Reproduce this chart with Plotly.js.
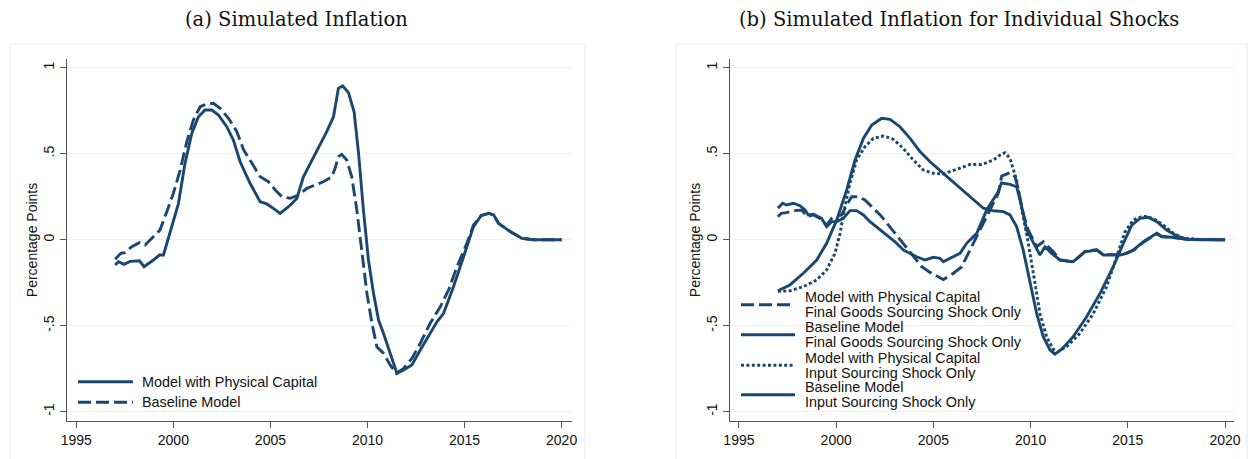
<!DOCTYPE html>
<html>
<head>
<meta charset="utf-8">
<script src="https://cdn.plot.ly/plotly-3.0.1.min.js"></script>
<style>html,body{margin:0;padding:0;background:#fff;}#chart{width:1250px;height:459px;}</style>
</head>
<body>
<div id="chart"></div>
<script>
// ---------- Panel (a) data ----------
const aCapYears = [1997.0,1997.17,1997.46,1997.77,1998.25,1998.49,1998.97,1999.28,1999.49,1999.92,2000.26,2000.6,2000.95,2001.29,2001.63,2001.98,2002.32,2002.75,2003.09,2003.44,2003.95,2004.47,2004.81,2005.15,2005.5,2005.93,2006.36,2006.7,2007.05,2007.47,2007.9,2008.25,2008.5,2008.72,2009.02,2009.31,2009.54,2009.79,2010.05,2010.31,2010.57,2010.82,2011.17,2011.52,2011.86,2012.29,2012.72,2013.23,2013.58,2013.92,2014.43,2014.95,2015.46,2015.85,2016.24,2016.5,2016.75,2017.35,2017.95,2018.55,2020.0];
const aCapVals  = [-0.147,-0.128,-0.143,-0.126,-0.122,-0.157,-0.118,-0.089,-0.089,0.076,0.21,0.444,0.619,0.715,0.754,0.754,0.725,0.657,0.58,0.453,0.328,0.221,0.208,0.182,0.153,0.192,0.24,0.366,0.444,0.531,0.628,0.715,0.88,0.894,0.855,0.744,0.502,0.173,-0.118,-0.312,-0.467,-0.544,-0.66,-0.777,-0.758,-0.728,-0.641,-0.544,-0.477,-0.428,-0.273,-0.099,0.076,0.14,0.153,0.144,0.095,0.047,0.008,0.0,0.0];

const aBaseYears = [1997.0,1997.29,1997.51,1997.86,1998.25,1998.54,1998.97,1999.31,1999.66,2000.0,2000.35,2000.69,2001.03,2001.38,2001.72,2002.06,2002.41,2002.84,2003.27,2003.62,2004.05,2004.47,2004.9,2005.25,2005.59,2006.02,2006.45,2006.88,2007.3,2007.73,2008.16,2008.33,2008.5,2008.67,2008.93,2009.19,2009.45,2009.71,2009.97,2010.23,2010.48,2010.82,2011.17,2011.48,2011.86,2012.29,2012.72,2013.23,2013.75,2014.18,2014.61,2015.12,2015.46,2015.85,2016.24,2016.5,2016.75,2017.35,2017.95,2018.55,2020.0];
const aBaseVals  = [-0.114,-0.079,-0.075,-0.04,-0.017,-0.031,0.017,0.056,0.163,0.27,0.405,0.57,0.696,0.773,0.789,0.793,0.764,0.706,0.628,0.522,0.444,0.366,0.337,0.289,0.25,0.241,0.26,0.299,0.318,0.337,0.366,0.415,0.483,0.496,0.463,0.366,0.173,-0.079,-0.312,-0.486,-0.622,-0.66,-0.728,-0.777,-0.748,-0.69,-0.602,-0.486,-0.39,-0.292,-0.157,-0.021,0.085,0.14,0.153,0.144,0.095,0.047,0.008,0.0,0.0];

// ---------- Panel (b) data ----------
const bFinalCapYears = [1997.0,1997.17,1997.45,1997.8,1998.23,1998.5,1998.83,1999.17,1999.51,1999.77,2000.03,2000.28,2000.54,2000.8,2001.14,2001.48,2001.91,2002.3,2002.94,2003.45,2003.97,2004.4,2004.83,2005.25,2005.51,2006.03,2006.46,2006.88,2007.4,2007.91,2008.34,2008.51,2008.94,2009.2,2009.37,2009.62,2009.88,2010.31,2010.65,2011.17,2011.51,2012.19,2012.8,2013.4,2013.74,2014.6,2014.94,2015.28,2015.8,2016.49,2016.74,2017.34,2018.03,2020.0];
const bFinalCapVals  = [0.134,0.153,0.157,0.169,0.173,0.134,0.144,0.124,0.085,0.124,0.138,0.144,0.202,0.25,0.25,0.231,0.183,0.14,0.05,-0.021,-0.099,-0.157,-0.19,-0.215,-0.232,-0.195,-0.157,-0.06,0.056,0.173,0.27,0.37,0.39,0.366,0.289,0.153,0.056,-0.041,-0.012,-0.07,-0.118,-0.13,-0.068,-0.058,-0.087,-0.087,-0.077,-0.062,-0.015,0.035,0.02,0.012,0.002,0.0];

const bFinalBaseYears = [1997.0,1997.25,1997.45,1997.8,1998.14,1998.4,1998.57,1998.83,1999.25,1999.51,1999.77,2000.03,2000.37,2000.71,2001.05,2001.4,2001.74,2002.17,2002.6,2003.03,2003.46,2003.8,2004.14,2004.57,2005.0,2005.34,2005.51,2005.86,2006.37,2006.71,2007.06,2007.23,2007.74,2008.08,2008.34,2008.5,2008.94,2009.28,2009.54,2009.8,2010.14,2010.48,2010.74,2011.08,2011.51,2012.19,2012.8,2013.4,2013.74,2014.6,2014.94,2015.28,2015.8,2016.49,2016.74,2017.34,2018.03,2020.0];
const bFinalBaseVals  = [0.183,0.212,0.202,0.212,0.198,0.173,0.144,0.148,0.124,0.076,0.105,0.105,0.124,0.169,0.169,0.144,0.105,0.066,0.027,-0.012,-0.06,-0.079,-0.099,-0.118,-0.102,-0.108,-0.128,-0.108,-0.079,-0.021,0.017,0.037,0.173,0.231,0.28,0.33,0.322,0.308,0.192,0.056,-0.021,-0.089,-0.041,-0.079,-0.118,-0.128,-0.07,-0.06,-0.089,-0.089,-0.079,-0.06,-0.012,0.037,0.017,0.014,0.002,0.0];

const bInputCapYears = [1997.0,1997.62,1998.31,1999.0,1999.51,1999.94,2000.2,2000.45,2000.71,2001.05,2001.48,2001.91,2002.42,2002.94,2003.45,2003.97,2004.48,2004.99,2005.51,2006.2,2006.88,2007.48,2008.08,2008.43,2008.68,2008.94,2009.28,2009.55,2009.85,2010.14,2010.48,2010.82,2011.17,2011.42,2011.86,2012.54,2013.23,2013.91,2014.43,2014.86,2015.28,2015.8,2016.31,2016.83,2017.34,2017.86,2018.71,2020.0];
const bInputCapVals  = [-0.3,-0.297,-0.273,-0.234,-0.176,-0.079,0.037,0.192,0.328,0.463,0.541,0.589,0.603,0.584,0.531,0.463,0.405,0.386,0.382,0.41,0.437,0.437,0.463,0.492,0.506,0.473,0.347,0.173,0.0,-0.195,-0.428,-0.564,-0.637,-0.651,-0.622,-0.544,-0.428,-0.273,-0.099,0.047,0.115,0.138,0.124,0.085,0.037,0.008,0.002,0.0];

const bInputBaseYears = [1997.0,1997.62,1998.31,1999.0,1999.51,2000.03,2000.54,2000.97,2001.4,2001.83,2002.34,2002.77,2003.28,2003.8,2004.31,2004.83,2005.51,2006.2,2006.88,2007.57,2008.08,2008.6,2008.94,2009.28,2009.62,2009.97,2010.31,2010.65,2011.0,2011.25,2011.6,2012.19,2012.88,2013.57,2014.25,2014.77,2015.2,2015.63,2016.06,2016.49,2017.0,2017.52,2018.03,2018.71,2020.0];
const bInputBaseVals  = [-0.297,-0.263,-0.195,-0.118,-0.021,0.115,0.289,0.463,0.589,0.667,0.706,0.7,0.657,0.589,0.512,0.453,0.386,0.318,0.25,0.183,0.168,0.163,0.144,0.076,-0.06,-0.253,-0.428,-0.564,-0.641,-0.665,-0.637,-0.564,-0.448,-0.312,-0.157,-0.021,0.085,0.124,0.13,0.105,0.056,0.022,0.002,0.0,0.0];

// ---------- Labels ----------
const panelTitles = ['(a) Simulated Inflation', '(b) Simulated Inflation for Individual Shocks'];
const yAxisTitle = 'Percentage Points';
const xTickVals = [1995, 2000, 2005, 2010, 2015, 2020];
const yTickVals = [-1, -0.5, 0, 0.5, 1];
const yTickText = ['-1', '-.5', '0', '.5', '1'];
const legendA = ['Model with Physical Capital', 'Baseline Model'];
const legendB = [
  ['Model with Physical Capital', 'Final Goods Sourcing Shock Only'],
  ['Baseline Model', 'Final Goods Sourcing Shock Only'],
  ['Model with Physical Capital', 'Input Sourcing Shock Only'],
  ['Baseline Model', 'Input Sourcing Shock Only']
];

// ---------- Styling ----------
const NAVY = '#1a476f';
const LW = 2.9;
const DASH = '13px,5px';
const DOT = '3px,2.4px';
const FONT = 'Liberation Sans, Arial, sans-serif';
const W = 1250, H = 459;
const px = x => x / W;
const py = y => 1 - y / H;

function tr(x, y, dash, xa, ya, name) {
  return {x: x, y: y, type: 'scatter', mode: 'lines', name: name, showlegend: false,
    xaxis: xa, yaxis: ya, line: {color: NAVY, width: LW, dash: dash}, hoverinfo: 'skip'};
}

const traces = [
  tr(aCapYears, aCapVals, 'solid', 'x', 'y', legendA[0]),
  tr(aBaseYears, aBaseVals, DASH, 'x', 'y', legendA[1]),
  tr(bFinalCapYears, bFinalCapVals, DASH, 'x2', 'y2', legendB[0].join(' ')),
  tr(bFinalBaseYears, bFinalBaseVals, 'solid', 'x2', 'y2', legendB[1].join(' ')),
  tr(bInputCapYears, bInputCapVals, DOT, 'x2', 'y2', legendB[2].join(' ')),
  tr(bInputBaseYears, bInputBaseVals, 'solid', 'x2', 'y2', legendB[3].join(' '))
];

function xax(domain, range) {
  return {domain: domain, range: range, tickmode: 'array', tickvals: xTickVals,
    ticktext: xTickVals.map(String), ticks: 'outside', ticklen: 6, tickwidth: 1, tickcolor: '#555',
    showline: true, linecolor: '#555', linewidth: 1.3, showgrid: false, zeroline: false,
    tickfont: {family: FONT, size: 14, color: '#111'}, fixedrange: true};
}
function yax(anchor, standoff) {
  return {domain: [py(421), py(59)], range: [-1.054, 1.0506], anchor: anchor,
    tickmode: 'array', tickvals: yTickVals, ticktext: yTickText, tickangle: -90,
    ticks: 'outside', ticklen: 6, tickwidth: 1, tickcolor: '#555',
    showline: true, linecolor: '#555', linewidth: 1.3,
    showgrid: true, gridcolor: '#eaf1f2', gridwidth: 1, zeroline: false,
    tickfont: {family: FONT, size: 14, color: '#111'},
    title: {text: yAxisTitle, font: {family: FONT, size: 14, color: '#111'}, standoff: standoff},
    fixedrange: true};
}

const shapes = [
  {type: 'rect', xref: 'paper', yref: 'paper', x0: px(10), x1: px(585), y0: -0.2, y1: py(44),
   line: {color: '#e6eef0', width: 1.2}, fillcolor: 'rgba(0,0,0,0)', layer: 'below'},
  {type: 'rect', xref: 'paper', yref: 'paper', x0: px(676), x1: px(1247), y0: -0.2, y1: py(44),
   line: {color: '#e6eef0', width: 1.2}, fillcolor: 'rgba(0,0,0,0)', layer: 'below'}
];
const TITLE_FONT = {family: 'DejaVu Serif, serif', size: 19.5, color: '#111'};
const annotations = [
  {text: panelTitles[0], xref: 'paper', yref: 'paper', x: px(296), y: py(19), xanchor: 'center', yanchor: 'middle',
   showarrow: false, font: TITLE_FONT},
  {text: panelTitles[1], xref: 'paper', yref: 'paper', x: px(959), y: py(19), xanchor: 'center', yanchor: 'middle',
   showarrow: false, font: TITLE_FONT}
];

// legend panel (a)
const legA_y = [381.7, 402.3];
const legA_dash = ['solid', DASH];
legA_y.forEach((y, i) => {
  shapes.push({type: 'line', xref: 'paper', yref: 'paper', x0: px(78), x1: px(133), y0: py(y), y1: py(y),
    line: {color: NAVY, width: LW, dash: legA_dash[i]}});
  annotations.push({text: legendA[i], xref: 'paper', yref: 'paper', x: px(140), y: py(y),
    xanchor: 'left', yanchor: 'middle', showarrow: false, font: {family: FONT, size: 14.4, color: '#111'}});
});
// legend panel (b)
const legB_y = [304.8, 334.8, 365.3, 394.8];
const legB_dash = [DASH, 'solid', DOT, 'solid'];
legB_y.forEach((y, i) => {
  shapes.push({type: 'line', xref: 'paper', yref: 'paper', x0: px(741), x1: px(795), y0: py(y), y1: py(y),
    line: {color: NAVY, width: LW, dash: legB_dash[i]}});
  legendB[i].forEach((t, j) => {
    annotations.push({text: t, xref: 'paper', yref: 'paper', x: px(802.5), y: py(y - 7.5 + 15 * j),
      xanchor: 'left', yanchor: 'middle', showarrow: false, font: {family: FONT, size: 14.4, color: '#111'}});
  });
});

const layout = {
  width: W, height: H, margin: {l: 0, r: 0, t: 0, b: 0, pad: 0},
  paper_bgcolor: '#ffffff', plot_bgcolor: 'rgba(0,0,0,0)', showlegend: false,
  xaxis: xax([px(67), px(571.7)], [1994.52, 2020.52]),
  yaxis: yax('x', 0),
  xaxis2: Object.assign(xax([px(730), px(1234)], [1994.54, 2020.46]), {anchor: 'y2'}),
  yaxis2: yax('x2', 0),
  shapes: shapes, annotations: annotations
};
layout.xaxis.anchor = 'y';

Plotly.newPlot('chart', traces, layout, {displayModeBar: false, staticPlot: true});
</script>
</body>
</html>
